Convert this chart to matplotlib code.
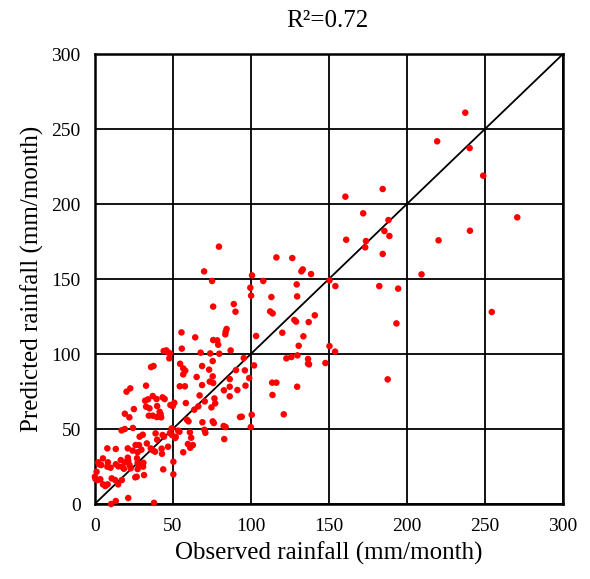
import matplotlib
matplotlib.use("Agg")
import matplotlib.pyplot as plt

plt.rcParams['font.family'] = ['Liberation Serif', 'DejaVu Serif']

observed = [
    237.4, 219.4, 240.2, 248.9, 184.5, 160.6, 172.0, 270.7, 188.2, 185.6, 240.4, 188.8, 161.1, 173.8,
    220.3, 173.3, 184.5, 209.4, 150.4, 154.2, 182.3, 194.4, 254.4, 193.3, 150.4, 154.0, 147.8, 187.7,
    79.6, 116.4, 126.6, 70.1, 133.3, 132.4, 138.6, 100.8, 75.2, 108.0, 129.4, 99.7, 100.2, 113.2,
    129.7, 89.1, 75.9, 90.2, 112.4, 114.0, 141.0, 127.9, 129.0, 137.1,
    84.5, 83.9, 83.7, 64.4, 75.9, 78.5, 79.1, 133.7, 103.4, 120.2, 130.7, 87.1, 67.9, 74.0, 79.8,
    95.5, 75.6, 122.8, 126.0, 129.9, 136.7, 136.7, 137.3, 68.8, 102.1, 73.3, 65.3, 75.6, 73.7, 75.9,
    68.8, 86.5, 90.5, 96.2, 96.6, 99.0, 86.5, 113.7, 116.4, 129.7,
    55.6, 55.8, 54.7, 56.7, 58.0, 56.7,
    67.2, 76.7, 77.2, 74.8, 58.4, 50.0, 70.5, 66.4, 63.8, 86.5, 93.1, 59.1, 60.1, 69.0, 75.6, 76.3,
    82.6, 83.9, 100.0, 91.4, 82.8, 48.5, 51.0, 54.5, 57.8,
    49.3, 53.4, 54.3, 51.9, 51.5, 61.0, 61.8, 70.3, 70.9, 83.0, 59.7, 62.9, 61.2, 56.7, 50.4, 50.4, 49.5,
    44.2, 45.9, 47.0, 48.1, 47.8, 36.1, 37.7, 32.9, 22.8, 20.4, 32.3, 34.2, 37.2, 39.6, 43.5, 44.8,
    32.9, 35.1, 40.0, 25.1, 19.3, 22.2, 41.6, 42.2, 41.1, 39.8, 37.2, 34.7, 42.6,
    17.2, 19.3, 24.5, 30.8, 28.8, 39.0, 40.0, 43.5, 44.4, 48.2, 8.1, 13.5, 21.2, 26.2, 28.4, 29.9,
    24.3, 27.5, 33.4, 35.9, 37.2, 38.7, 42.9, 43.1, 47.0, 5.3, 2.3, 2.7, 4.2, 1.2, 8.5, 8.1, 10.2,
    13.5, 15.2, 16.7, 19.1, 17.8, 18.7, 21.2, 21.5, 22.3, 23.0, 27.1, 27.5, 28.0, 31.2, 31.0, 27.5,
    26.0, 26.9, 0.1, 0.5, 1.8, 3.6, 5.3, 6.8, 8.3, 10.9, 13.1, 15.0, 17.4, 31.6, 43.9,
    10.5, 13.5, 21.5, 38.0,
    113.9, 94.2, 100.6, 121.1,
]

predicted = [
    260.9, 241.8, 237.3, 218.9, 210.0, 204.9, 193.8, 191.1, 189.3, 182.0, 182.2, 178.7, 176.2, 175.3,
    175.8, 171.1, 166.7, 153.1, 149.1, 145.3, 145.3, 143.6, 128.0, 120.4, 105.3, 101.6, 94.0, 83.1,
    171.6, 164.4, 164.0, 155.1, 156.4, 155.1, 153.3, 152.4, 148.7, 148.7, 146.4, 144.2, 138.9, 138.0,
    138.4, 133.3, 131.6, 128.2, 128.4, 127.1, 125.8, 122.7, 121.6, 121.3,
    116.7, 114.9, 113.1, 111.1, 109.3, 109.1, 106.2, 111.8, 112.0, 114.2, 105.5, 102.4, 100.9, 100.4, 100.2,
    97.3, 95.3, 97.1, 98.0, 99.1, 96.7, 93.6, 93.1, 92.0, 92.4, 89.6, 84.7, 85.1, 81.6, 80.7,
    79.3, 83.3, 89.3, 89.1, 78.9, 84.0, 78.2, 80.9, 80.9, 78.2,
    114.4, 103.6, 93.5, 90.4, 88.9, 86.4,
    72.4, 70.4, 67.1, 64.4, 67.3, 65.3, 68.4, 65.1, 62.9, 71.8, 58.0, 56.2, 55.1, 54.5, 55.1, 54.0,
    52.0, 51.3, 51.3, 76.0, 75.8, 66.0, 67.5, 78.5, 78.5,
    50.4, 48.9, 48.2, 44.7, 44.0, 47.8, 44.2, 49.5, 47.5, 43.3, 40.0, 39.3, 37.5, 34.5, 28.2, 19.8, 46.0,
    102.0, 102.4, 101.1, 100.5, 97.1, 91.3, 92.0, 78.9, 77.1, 74.9, 68.9, 69.8, 72.0, 70.0, 71.1, 70.0,
    64.9, 63.8, 65.3, 63.3, 60.2, 57.8, 61.5, 60.0, 58.7, 58.0, 58.9, 58.9, 57.8,
    49.1, 50.0, 50.7, 46.2, 44.9, 47.1, 42.9, 46.0, 44.9, 47.3, 37.1, 36.7, 37.1, 39.3, 39.3, 36.2,
    35.6, 34.5, 40.4, 37.1, 35.8, 34.9, 36.9, 33.5, 38.2, 30.4, 27.8, 26.5, 26.0, 21.5, 27.8, 24.9, 24.2,
    26.5, 25.1, 29.3, 27.8, 24.7, 23.5, 30.9, 28.7, 26.0, 23.8, 30.5, 27.5, 26.5, 27.5, 24.9, 23.3,
    17.8, 18.2, 18.2, 16.7, 16.0, 16.5, 13.1, 12.0, 13.1, 17.1, 16.0, 13.1, 16.0, 19.3, 23.1,
    0.0, 2.0, 4.0, 0.8,
    72.7, 58.2, 59.5, 59.8,
]

ticks = [0, 50, 100, 150, 200, 250, 300]
title = "R\u00b2=0.72"
xlabel = "Observed rainfall (mm/month)"
ylabel = "Predicted rainfall (mm/month)"

fig = plt.figure(figsize=(5.90, 5.79), dpi=100)
ax = fig.add_axes([0.1605, 0.1295, 0.7937, 0.7772])
ax.set_xlim(0, 300)
ax.set_ylim(0, 300)
ax.set_xticks(ticks)
ax.set_yticks(ticks)
ax.grid(True, color='black', linewidth=1.3)
ax.set_axisbelow(True)
for s in ax.spines.values():
    s.set_linewidth(1.8)
    s.set_color('black')
ax.tick_params(length=0, labelsize=14, pad=10)
ax.plot([0, 300], [0, 300], color='black', linewidth=1.3, zorder=3)
ax.scatter(observed, predicted, s=22, color='#ff0000', edgecolors='none', zorder=4, clip_on=False)
ax.set_xlabel(xlabel, fontsize=18, labelpad=5)
ax.set_ylabel(ylabel, fontsize=18, labelpad=5)
fig.text(0.555, 0.963, title, ha='center', va='center', fontsize=18)
fig.savefig("out.png", dpi=100)
